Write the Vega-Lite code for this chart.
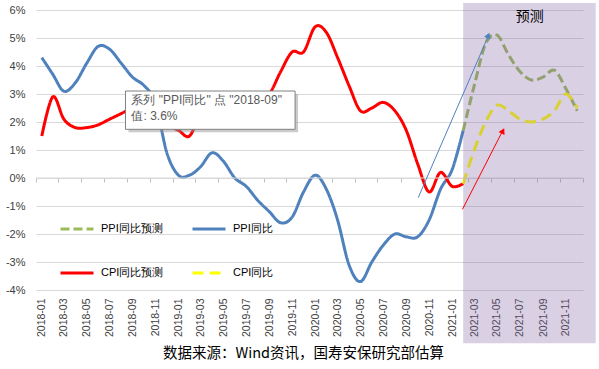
{
  "$schema": "https://vega.github.io/schema/vega-lite/v6.json",
  "width": 547,
  "height": 280,
  "autosize": {"type": "none"},
  "padding": {"left": 36, "top": 10, "right": 16, "bottom": 79},
  "background": "white",
  "config": {
    "view": {"stroke": null},
    "font": "Liberation Sans",
    "axisY": {
      "title": null,
      "domain": false,
      "ticks": false,
      "grid": true,
      "gridColor": "#d9d9d9",
      "labelPadding": 11,
      "labelFontSize": 11,
      "labelColor": "#404040",
      "labelFont": "Liberation Sans",
      "labelOverlap": false,
      "labelExpr": "datum.value + '%'"
    },
    "legend": {
      "orient": "none",
      "direction": "horizontal",
      "legendX": 23,
      "legendY": 201,
      "columns": 2,
      "symbolType": "stroke",
      "symbolSize": 1089,
      "symbolStrokeWidth": 3,
      "labelFontSize": 11,
      "labelColor": "#000000",
      "labelFont": "Liberation Sans",
      "labelOffset": 6,
      "columnPadding": 22,
      "rowPadding": 20,
      "padding": 0
    }
  },
  "title": {
    "text": "数据来源：Wind资讯，国寿安保研究部估算",
    "orient": "bottom",
    "anchor": "middle",
    "font": "Noto Sans CJK SC",
    "fontSize": 14.5,
    "fontWeight": "normal",
    "color": "#000000",
    "offset": 4,
    "dx": -6
  },
  "datasets": {
    "series": [
      {"month": "2018-01", "series": "PPI同比", "value": 4.3},
      {"month": "2018-02", "series": "PPI同比", "value": 3.7},
      {"month": "2018-03", "series": "PPI同比", "value": 3.1},
      {"month": "2018-04", "series": "PPI同比", "value": 3.4},
      {"month": "2018-05", "series": "PPI同比", "value": 4.1},
      {"month": "2018-06", "series": "PPI同比", "value": 4.7},
      {"month": "2018-07", "series": "PPI同比", "value": 4.6},
      {"month": "2018-08", "series": "PPI同比", "value": 4.1},
      {"month": "2018-09", "series": "PPI同比", "value": 3.6},
      {"month": "2018-10", "series": "PPI同比", "value": 3.3},
      {"month": "2018-11", "series": "PPI同比", "value": 2.7},
      {"month": "2018-12", "series": "PPI同比", "value": 0.9},
      {"month": "2019-01", "series": "PPI同比", "value": 0.1},
      {"month": "2019-02", "series": "PPI同比", "value": 0.1},
      {"month": "2019-03", "series": "PPI同比", "value": 0.4},
      {"month": "2019-04", "series": "PPI同比", "value": 0.9},
      {"month": "2019-05", "series": "PPI同比", "value": 0.6},
      {"month": "2019-06", "series": "PPI同比", "value": 0.0},
      {"month": "2019-07", "series": "PPI同比", "value": -0.3},
      {"month": "2019-08", "series": "PPI同比", "value": -0.8},
      {"month": "2019-09", "series": "PPI同比", "value": -1.2},
      {"month": "2019-10", "series": "PPI同比", "value": -1.6},
      {"month": "2019-11", "series": "PPI同比", "value": -1.4},
      {"month": "2019-12", "series": "PPI同比", "value": -0.5},
      {"month": "2020-01", "series": "PPI同比", "value": 0.1},
      {"month": "2020-02", "series": "PPI同比", "value": -0.4},
      {"month": "2020-03", "series": "PPI同比", "value": -1.5},
      {"month": "2020-04", "series": "PPI同比", "value": -3.1},
      {"month": "2020-05", "series": "PPI同比", "value": -3.7},
      {"month": "2020-06", "series": "PPI同比", "value": -3.0},
      {"month": "2020-07", "series": "PPI同比", "value": -2.4},
      {"month": "2020-08", "series": "PPI同比", "value": -2.0},
      {"month": "2020-09", "series": "PPI同比", "value": -2.1},
      {"month": "2020-10", "series": "PPI同比", "value": -2.1},
      {"month": "2020-11", "series": "PPI同比", "value": -1.5},
      {"month": "2020-12", "series": "PPI同比", "value": -0.4},
      {"month": "2021-01", "series": "PPI同比", "value": 0.3},
      {"month": "2021-02", "series": "PPI同比", "value": 1.7},
      {"month": "2018-01", "series": "CPI同比预测", "value": 1.5},
      {"month": "2018-02", "series": "CPI同比预测", "value": 2.9},
      {"month": "2018-03", "series": "CPI同比预测", "value": 2.1},
      {"month": "2018-04", "series": "CPI同比预测", "value": 1.8},
      {"month": "2018-05", "series": "CPI同比预测", "value": 1.8},
      {"month": "2018-06", "series": "CPI同比预测", "value": 1.9},
      {"month": "2018-07", "series": "CPI同比预测", "value": 2.1},
      {"month": "2018-08", "series": "CPI同比预测", "value": 2.3},
      {"month": "2018-09", "series": "CPI同比预测", "value": 2.5},
      {"month": "2018-10", "series": "CPI同比预测", "value": 2.5},
      {"month": "2018-11", "series": "CPI同比预测", "value": 2.2},
      {"month": "2018-12", "series": "CPI同比预测", "value": 1.9},
      {"month": "2019-01", "series": "CPI同比预测", "value": 1.7},
      {"month": "2019-02", "series": "CPI同比预测", "value": 1.5},
      {"month": "2019-03", "series": "CPI同比预测", "value": 2.3},
      {"month": "2019-04", "series": "CPI同比预测", "value": 2.5},
      {"month": "2019-05", "series": "CPI同比预测", "value": 2.7},
      {"month": "2019-06", "series": "CPI同比预测", "value": 2.7},
      {"month": "2019-07", "series": "CPI同比预测", "value": 2.8},
      {"month": "2019-08", "series": "CPI同比预测", "value": 2.8},
      {"month": "2019-09", "series": "CPI同比预测", "value": 3.0},
      {"month": "2019-10", "series": "CPI同比预测", "value": 3.8},
      {"month": "2019-11", "series": "CPI同比预测", "value": 4.5},
      {"month": "2019-12", "series": "CPI同比预测", "value": 4.5},
      {"month": "2020-01", "series": "CPI同比预测", "value": 5.4},
      {"month": "2020-02", "series": "CPI同比预测", "value": 5.2},
      {"month": "2020-03", "series": "CPI同比预测", "value": 4.3},
      {"month": "2020-04", "series": "CPI同比预测", "value": 3.3},
      {"month": "2020-05", "series": "CPI同比预测", "value": 2.4},
      {"month": "2020-06", "series": "CPI同比预测", "value": 2.5},
      {"month": "2020-07", "series": "CPI同比预测", "value": 2.7},
      {"month": "2020-08", "series": "CPI同比预测", "value": 2.4},
      {"month": "2020-09", "series": "CPI同比预测", "value": 1.7},
      {"month": "2020-10", "series": "CPI同比预测", "value": 0.5},
      {"month": "2020-11", "series": "CPI同比预测", "value": -0.5},
      {"month": "2020-12", "series": "CPI同比预测", "value": 0.2},
      {"month": "2021-01", "series": "CPI同比预测", "value": -0.3},
      {"month": "2021-02", "series": "CPI同比预测", "value": -0.2},
      {"month": "2021-02", "series": "PPI同比预测", "value": 1.7},
      {"month": "2021-03", "series": "PPI同比预测", "value": 3.3},
      {"month": "2021-04", "series": "PPI同比预测", "value": 4.8},
      {"month": "2021-05", "series": "PPI同比预测", "value": 5.1},
      {"month": "2021-06", "series": "PPI同比预测", "value": 4.4},
      {"month": "2021-07", "series": "PPI同比预测", "value": 3.8},
      {"month": "2021-08", "series": "PPI同比预测", "value": 3.5},
      {"month": "2021-09", "series": "PPI同比预测", "value": 3.6},
      {"month": "2021-10", "series": "PPI同比预测", "value": 3.85},
      {"month": "2021-11", "series": "PPI同比预测", "value": 3.2},
      {"month": "2021-12", "series": "PPI同比预测", "value": 2.4},
      {"month": "2021-02", "series": "CPI同比", "value": -0.2},
      {"month": "2021-03", "series": "CPI同比", "value": 1.0},
      {"month": "2021-04", "series": "CPI同比", "value": 2.0},
      {"month": "2021-05", "series": "CPI同比", "value": 2.6},
      {"month": "2021-06", "series": "CPI同比", "value": 2.4},
      {"month": "2021-07", "series": "CPI同比", "value": 2.1},
      {"month": "2021-08", "series": "CPI同比", "value": 2.0},
      {"month": "2021-09", "series": "CPI同比", "value": 2.1},
      {"month": "2021-10", "series": "CPI同比", "value": 2.4},
      {"month": "2021-11", "series": "CPI同比", "value": 3.0},
      {"month": "2021-12", "series": "CPI同比", "value": 2.5}
    ]
  },
  "layer": [
    {
      "data": {"name": "series"},
      "mark": {"type": "line", "interpolate": "cardinal", "strokeWidth": 3},
      "encoding": {
        "x": {
          "field": "month",
          "timeUnit": "utcyearmonth",
          "type": "temporal",
          "bandPosition": 0.5,
          "scale": {
            "type": "utc",
            "nice": false,
            "domain": [
              {"year": 2018, "month": 1, "date": 1, "utc": true},
              {"year": 2022, "month": 1, "date": 1, "utc": true}
            ]
          },
          "axis": {
            "orient": "bottom",
            "title": null,
            "grid": false,
            "domain": false,
            "ticks": false,
            "labelAngle": 270,
            "labelPadding": 8,
            "labelOffset": 5.7,
            "labelFontSize": 10.5,
            "labelColor": "#404040",
            "labelFont": "Liberation Sans",
            "labelOverlap": false,
            "labelFlush": false,
            "tickCount": {"interval": "month", "step": 2},
            "labelExpr": "utcyear(datum.value) > 2021 ? '' : utcFormat(datum.value, '%Y-%m')"
          }
        },
        "y": {
          "field": "value",
          "type": "quantitative",
          "scale": {"domain": [-4, 6], "nice": false, "zero": false},
          "axis": {"values": [-4, -3, -2, -1, 0, 1, 2, 3, 4, 5, 6]}
        },
        "color": {
          "field": "series",
          "type": "nominal",
          "scale": {
            "domain": ["PPI同比预测", "PPI同比", "CPI同比预测", "CPI同比"],
            "range": ["#9bbb59", "#4f81bd", "#ff0000", "#ffff00"]
          },
          "legend": {"title": null}
        },
        "strokeDash": {
          "field": "series",
          "type": "nominal",
          "scale": {
            "domain": ["PPI同比预测", "PPI同比", "CPI同比预测", "CPI同比"],
            "range": [[9, 4], [1, 0], [1, 0], [11, 6]]
          },
          "legend": {"title": null}
        }
      }
    },
    {
      "data": {"values": [{}]},
      "mark": {"type": "rule", "color": "#d9d9d9", "strokeWidth": 1},
      "encoding": {
        "x": {
          "datum": {"year": 2018, "month": 1, "date": 1, "utc": true},
          "type": "temporal",
          "axis": {
            "orient": "bottom",
            "offset": -112,
            "labels": false,
            "domain": false,
            "ticks": true,
            "tickSize": 4,
            "tickColor": "#bfbfbf",
            "grid": false,
            "title": null,
            "tickCount": {"interval": "month", "step": 2}
          }
        },
        "x2": {"datum": {"year": 2022, "month": 1, "date": 1, "utc": true}},
        "y": {"datum": 0, "type": "quantitative", "axis": {"values": [-4, -3, -2, -1, 0, 1, 2, 3, 4, 5, 6]}}
      }
    },
    {
      "data": {"values": [{}]},
      "mark": {"type": "rect", "color": "#8064a2", "opacity": 0.3},
      "encoding": {
        "x": {"datum": {"year": 2021, "month": 2, "date": 15, "utc": true}, "type": "temporal", "axis": null},
        "x2": {"datum": {"year": 2022, "month": 2, "date": 4, "utc": true}},
        "y": {"datum": 6.25, "type": "quantitative", "axis": {"values": [-4, -3, -2, -1, 0, 1, 2, 3, 4, 5, 6]}},
        "y2": {"datum": -5.9}
      }
    },
    {
      "data": {"values": [{}]},
      "mark": {"type": "rule", "color": "#4f81bd", "strokeWidth": 1},
      "encoding": {
        "x": {"datum": {"year": 2020, "month": 10, "date": 18, "utc": true}, "type": "temporal", "axis": null},
        "x2": {"datum": {"year": 2021, "month": 4, "date": 24, "utc": true}},
        "y": {"datum": -0.7, "type": "quantitative", "axis": {"values": [-4, -3, -2, -1, 0, 1, 2, 3, 4, 5, 6]}},
        "y2": {"datum": 5.1}
      }
    },
    {
      "data": {"values": [{}]},
      "mark": {"type": "point", "shape": "triangle-up", "filled": true, "color": "#4f81bd", "opacity": 1, "size": 45, "angle": 23},
      "encoding": {
        "x": {"datum": {"year": 2021, "month": 4, "date": 23, "utc": true}, "type": "temporal", "axis": null},
        "y": {"datum": 5.09, "type": "quantitative", "axis": {"values": [-4, -3, -2, -1, 0, 1, 2, 3, 4, 5, 6]}}
      }
    },
    {
      "data": {"values": [{}]},
      "mark": {"type": "rule", "color": "#ff0000", "strokeWidth": 1},
      "encoding": {
        "x": {"datum": {"year": 2021, "month": 2, "date": 13, "utc": true}, "type": "temporal", "axis": null},
        "x2": {"datum": {"year": 2021, "month": 6, "date": 1, "utc": true}},
        "y": {"datum": -1.12, "type": "quantitative", "axis": {"values": [-4, -3, -2, -1, 0, 1, 2, 3, 4, 5, 6]}},
        "y2": {"datum": 1.7}
      }
    },
    {
      "data": {"values": [{}]},
      "mark": {"type": "point", "shape": "triangle-up", "filled": true, "color": "#ff0000", "opacity": 1, "size": 45, "angle": 27},
      "encoding": {
        "x": {"datum": {"year": 2021, "month": 6, "date": 1, "utc": true}, "type": "temporal", "axis": null},
        "y": {"datum": 1.68, "type": "quantitative", "axis": {"values": [-4, -3, -2, -1, 0, 1, 2, 3, 4, 5, 6]}}
      }
    },
    {
      "data": {"values": [{}]},
      "mark": {"type": "text", "text": "预测", "font": "Noto Sans CJK SC", "fontSize": 14, "color": "#000000", "align": "center", "baseline": "middle"},
      "encoding": {
        "x": {"datum": {"year": 2021, "month": 8, "date": 12, "utc": true}, "type": "temporal", "axis": null},
        "y": {"datum": 5.75, "type": "quantitative", "axis": {"values": [-4, -3, -2, -1, 0, 1, 2, 3, 4, 5, 6]}}
      }
    },
    {
      "data": {"values": [{}]},
      "mark": {"type": "rect", "color": "#8c8c8c", "opacity": 0.45, "xOffset": 3, "x2Offset": 3, "yOffset": 3, "y2Offset": 3},
      "encoding": {
        "x": {"datum": {"year": 2018, "month": 8, "date": 28, "utc": true}, "type": "temporal", "axis": null},
        "x2": {"datum": {"year": 2019, "month": 11, "date": 24, "utc": true}},
        "y": {"datum": 3.107, "type": "quantitative", "axis": {"values": [-4, -3, -2, -1, 0, 1, 2, 3, 4, 5, 6]}},
        "y2": {"datum": 1.739}
      }
    },
    {
      "data": {"values": [{}]},
      "mark": {"type": "rect", "fill": "#ffffff", "stroke": "#808080", "strokeWidth": 1, "opacity": 1},
      "encoding": {
        "x": {"datum": {"year": 2018, "month": 8, "date": 28, "utc": true}, "type": "temporal", "axis": null},
        "x2": {"datum": {"year": 2019, "month": 11, "date": 24, "utc": true}},
        "y": {"datum": 3.107, "type": "quantitative", "axis": {"values": [-4, -3, -2, -1, 0, 1, 2, 3, 4, 5, 6]}},
        "y2": {"datum": 1.739}
      }
    },
    {
      "data": {"values": [{}]},
      "mark": {"type": "text", "text": ["系列 \"PPI同比\" 点 \"2018-09\"", "值: 3.6%"], "font": "Liberation Sans", "fontSize": 12, "color": "#595959", "align": "left", "baseline": "top", "lineHeight": 16.6},
      "encoding": {
        "x": {"datum": {"year": 2018, "month": 9, "date": 13, "utc": true}, "type": "temporal", "axis": null},
        "y": {"datum": 2.98, "type": "quantitative", "axis": {"values": [-4, -3, -2, -1, 0, 1, 2, 3, 4, 5, 6]}}
      }
    }
  ],
  "resolve": {"axis": {"x": "independent"}}
}
